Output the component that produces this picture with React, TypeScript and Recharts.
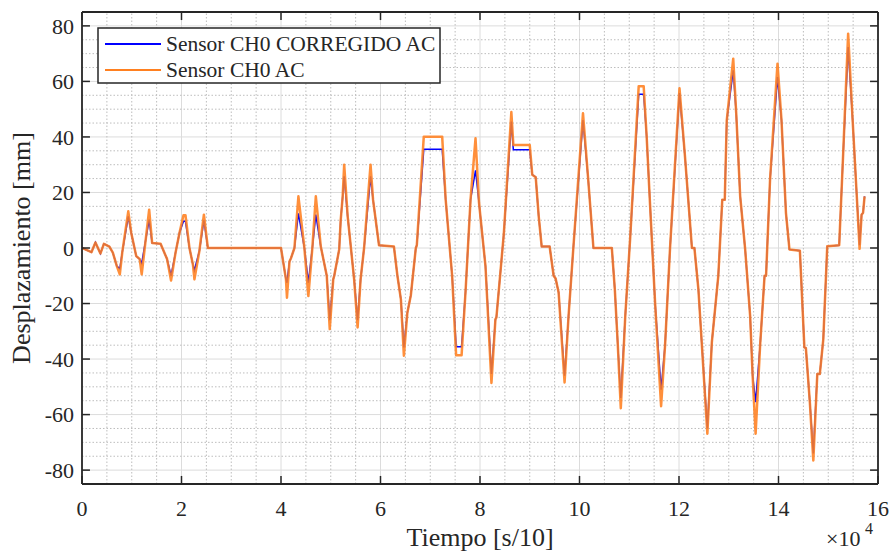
import React from 'react';
import { LineChart, Line, XAxis, YAxis, CartesianGrid, ReferenceLine } from 'recharts';

// Tiempo [s/10] in units of 1e4
const time = [
  0.0, 0.19, 0.27, 0.37, 0.44, 0.55, 0.62, 0.7, 0.76, 0.81, 0.93, 0.99, 1.09, 1.16, 1.2, 1.35, 1.41, 1.58, 1.71, 1.79,
  1.88, 1.96, 2.04, 2.08, 2.16, 2.23, 2.26, 2.36, 2.45, 2.53, 4.0, 4.1, 4.12, 4.17, 4.2, 4.27, 4.35, 4.47, 4.55, 4.63,
  4.7, 4.8, 4.92, 4.98, 5.05, 5.07, 5.17, 5.2, 5.24, 5.27, 5.34, 5.4, 5.47, 5.54, 5.6, 5.67, 5.8, 5.85, 5.97, 6.27,
  6.34, 6.41, 6.47, 6.54, 6.61, 6.71, 6.73, 6.87, 7.24, 7.31, 7.44, 7.52, 7.63, 7.71, 7.81, 7.91, 7.98, 8.11, 8.23, 8.31,
  8.33, 8.48, 8.63, 8.67, 9.0, 9.05, 9.12, 9.18, 9.24, 9.4, 9.48, 9.52, 9.58, 9.7, 9.78, 9.88, 10.07, 10.17, 10.28, 10.65,
  10.71, 10.77, 10.83, 10.92, 11.02, 11.19, 11.29, 11.35, 11.42, 11.52, 11.64, 11.72, 11.82, 12.01, 12.12, 12.26, 12.31, 12.39, 12.46, 12.57,
  12.66, 12.79, 12.87, 12.92, 12.96, 13.09, 13.15, 13.23, 13.33, 13.43, 13.48, 13.54, 13.63, 13.72, 13.75, 13.83, 13.98, 14.06, 14.15, 14.22,
  14.43, 14.52, 14.55, 14.63, 14.7, 14.78, 14.83, 14.9, 14.98, 15.22, 15.3, 15.4, 15.49, 15.57, 15.63, 15.67, 15.7, 15.73,
];

const sensorAC = [
  0, -1.5, 2, -2, 1.5, 0.5, -1.7, -6.5, -9.5, -1.5, 13.2, 5.4, -2.9, -4, -9.5, 13.8, 1.8, 1.5, -4, -11.7,
  -1.7, 5.5, 11.8, 11.8, 0, -6, -11.3, -1, 12, 0, 0, -11.3, -17.9, -4.9, -3.7, 0, 18.6, 0, -17.3, 0,
  18.6, 0.5, -10, -29.2, -11.3, -10, -0.5, 10, 18.6, 30, 11.4, 1, -11.3, -28.6, -11.3, 0, 30, 17.4, 1, 0.5,
  -10, -18.5, -38.8, -23.3, -17, 0, 1, 40.1, 40.1, 17.4, -10, -38.6, -38.6, -15.5, 17.4, 39.5, 16.3, -6.5, -48.6, -25.7,
  -25, 5.4, 49, 37.1, 37.1, 26.4, 25.5, 11.4, 0.5, 0.5, -10, -11, -16, -48.4, -24.5, 1, 48.5, 25.8, 0, 0,
  -14.9, -35, -57.7, -24.5, 4, 58.3, 58.3, 40.1, 15, -20, -57, -35, 0, 57.5, 33, 0, 0, -14.9, -35, -66.9,
  -34, -10, 17.4, 17.4, 46, 68.2, 48.5, 18.6, -0.5, -24.5, -46, -66.9, -35.2, -10, -10, 24.6, 66.4, 46.1, 12.6, -0.5,
  -1, -35.8, -36, -55.5, -76.5, -45.4, -45.4, -33, 0.6, 1, 34, 77.2, 46.1, 19.8, -0.3, 12, 12.7, 18.6,
];

const sensorCorregido = [
  0, -1.5, 2, -2, 1.5, 0.5, -1.7, -6.5, -7.5, -1.5, 11.4, 5.4, -2.9, -4, -5.5, 10.2, 1.8, 1.5, -4, -10,
  -1.7, 5.5, 9.6, 9.6, 0, -6, -8, -1, 10, 0, 0, -11.3, -12.5, -4.9, -3.7, 0, 12.5, 0, -12.5, 0,
  12, 0.5, -10, -26, -11.3, -10, -0.5, 10, 18.6, 25.8, 11.4, 1, -11.3, -26, -11.3, 0, 25.8, 17.4, 1, 0.5,
  -10, -18.5, -35.8, -23.3, -17, 0, 1, 35.6, 35.6, 17.4, -10, -35.6, -35.6, -15.5, 17.4, 28, 16.3, -6.5, -45.4, -25.7,
  -25, 5.4, 45.5, 35.4, 35.4, 26.4, 25.5, 11.4, 0.5, 0.5, -10, -11, -16, -46, -24.5, 1, 46.1, 25.8, 0, 0,
  -14.9, -35, -54, -24.5, 4, 55.4, 55.4, 40.1, 15, -20, -51, -35, 0, 55.8, 33, 0, 0, -14.9, -35, -65,
  -34, -10, 17.4, 17.4, 46, 64, 48.5, 18.6, -0.5, -24.5, -46, -55.5, -35.2, -10, -10, 24.6, 61.6, 46.1, 12.6, -0.5,
  -1, -35.8, -36, -55.5, -74, -45.4, -45.4, -33, 0.6, 1, 34, 72.4, 46.1, 19.8, 1, 12, 12.7, 18.6,
];

const xTicks = [0, 2, 4, 6, 8, 10, 12, 14, 16];
const yTicks = [-80, -60, -40, -20, 0, 20, 40, 60, 80];
const xMinor = [0.5, 1, 1.5, 2.5, 3, 3.5, 4.5, 5, 5.5, 6.5, 7, 7.5, 8.5, 9, 9.5, 10.5, 11, 11.5, 12.5, 13, 13.5, 14.5, 15, 15.5];
const yMinor = [-75, -70, -65, -55, -50, -45, -35, -30, -25, -15, -10, -5, 5, 10, 15, 25, 30, 35, 45, 50, 55, 65, 70, 75];

const seriesNames = ['Sensor CH0 CORREGIDO AC', 'Sensor CH0 AC'];
const BLUE = '#0000ff';
const ORANGE = '#ff8020';
const AXIS = '#262626';
const FONT = '"Liberation Serif", "Times New Roman", serif';

const data = time.map((t, i) => ({ t, corr: sensorCorregido[i], ac: sensorAC[i] }));

const X_MIN = 0, X_MAX = 16, Y_MIN = -85, Y_MAX = 85;
const X_TICK_LEN = 0.16;
const Y_TICK_LEN = 2.9;

export default function App() {
  return (
    <div style={{ position: 'absolute', left: 0, top: 0, width: 891, height: 552, background: '#fff' }}>
      <LineChart
        width={891}
        height={552}
        data={data}
        margin={{ top: 12, right: 13, bottom: 28, left: 22 }}
      >
        <CartesianGrid stroke="#dcdcdc" strokeWidth={1} />
        {xMinor.map((v) => (
          <ReferenceLine key={'xm' + v} x={v} stroke="#bdbdbd" strokeDasharray="1.5 2" strokeWidth={1} />
        ))}
        {yMinor.map((v) => (
          <ReferenceLine key={'ym' + v} y={v} stroke="#bdbdbd" strokeDasharray="1.5 2" strokeWidth={1} />
        ))}
        <XAxis
          dataKey="t"
          type="number"
          domain={[X_MIN, X_MAX]}
          ticks={xTicks}
          allowDataOverflow
          axisLine={false}
          tickLine={false}
          tickSize={0}
          tickMargin={16}
          height={40}
          tick={{ fontSize: 22, fill: AXIS, fontFamily: FONT }}
        />
        <YAxis
          type="number"
          domain={[Y_MIN, Y_MAX]}
          ticks={yTicks}
          allowDataOverflow
          axisLine={false}
          tickLine={false}
          tickSize={0}
          tickMargin={8}
          width={60}
          tick={{ fontSize: 22, fill: AXIS, fontFamily: FONT }}
        />
        <Line
          type="linear"
          dataKey="corr"
          name={seriesNames[0]}
          stroke={BLUE}
          strokeWidth={1.5}
          dot={false}
          isAnimationActive={false}
        />
        <Line
          type="linear"
          dataKey="ac"
          name={seriesNames[1]}
          stroke={ORANGE}
          strokeWidth={2.5}
          strokeOpacity={0.88}
          strokeLinejoin="round"
          dot={false}
          isAnimationActive={false}
        />
        {xTicks.map((v) => (
          <ReferenceLine key={'xtb' + v} segment={[{ x: v, y: Y_MIN }, { x: v, y: Y_MIN + Y_TICK_LEN }]} stroke={AXIS} strokeWidth={1.5} />
        ))}
        {xTicks.map((v) => (
          <ReferenceLine key={'xtt' + v} segment={[{ x: v, y: Y_MAX }, { x: v, y: Y_MAX - Y_TICK_LEN }]} stroke={AXIS} strokeWidth={1.5} />
        ))}
        {yTicks.map((v) => (
          <ReferenceLine key={'ytl' + v} segment={[{ x: X_MIN, y: v }, { x: X_MIN + X_TICK_LEN, y: v }]} stroke={AXIS} strokeWidth={1.5} />
        ))}
        {yTicks.map((v) => (
          <ReferenceLine key={'ytr' + v} segment={[{ x: X_MAX, y: v }, { x: X_MAX - X_TICK_LEN, y: v }]} stroke={AXIS} strokeWidth={1.5} />
        ))}
        <ReferenceLine x={X_MIN} stroke={AXIS} strokeWidth={1.8} />
        <ReferenceLine x={X_MAX} stroke={AXIS} strokeWidth={1.8} />
        <ReferenceLine y={Y_MIN} stroke={AXIS} strokeWidth={1.8} />
        <ReferenceLine y={Y_MAX} stroke={AXIS} strokeWidth={1.8} />
      </LineChart>
      <svg
        width={891}
        height={552}
        style={{ position: 'absolute', left: 0, top: 0, pointerEvents: 'none' }}
      >
        <g transform="translate(97,27)">
          <rect x={1} y={1} width={342} height={55} fill="#fff" stroke={AXIS} strokeWidth={1.5} />
          <line x1={8} y1={17} x2={64} y2={17} stroke={BLUE} strokeWidth={2} />
          <text x={69} y={24} fontFamily={FONT} fontSize={21.5} fill={AXIS}>{seriesNames[0]}</text>
          <line x1={8} y1={43} x2={64} y2={43} stroke={ORANGE} strokeWidth={2} />
          <text x={69} y={50} fontFamily={FONT} fontSize={21.5} fill={AXIS}>{seriesNames[1]}</text>
        </g>
        <text x={480} y={546} textAnchor="middle" fontFamily={FONT} fontSize={26} fill={AXIS}>
          Tiempo [s/10]
        </text>
        <text
          x={0}
          y={0}
          transform="translate(30,248) rotate(-90)"
          textAnchor="middle"
          fontFamily={FONT}
          fontSize={26}
          fill={AXIS}
        >
          Desplazamiento [mm]
        </text>
        <text x={826} y={546} fontFamily={FONT} fontSize={22} fill={AXIS}>
          ×10
        </text>
        <text x={865} y={534} fontFamily={FONT} fontSize={16} fill={AXIS}>
          4
        </text>
      </svg>
    </div>
  );
}
